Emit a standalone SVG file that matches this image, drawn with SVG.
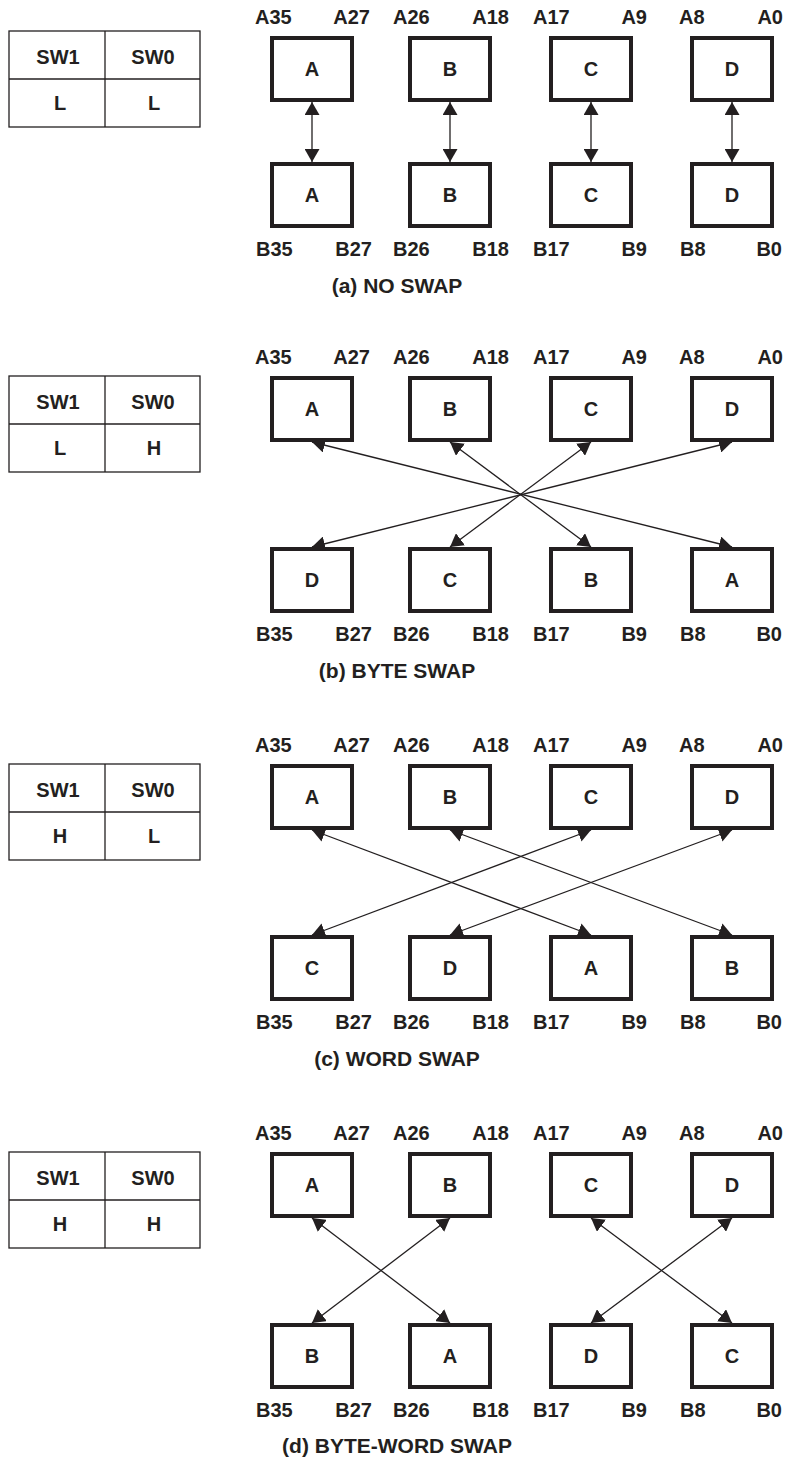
<svg xmlns="http://www.w3.org/2000/svg" width="786" height="1460" viewBox="0 0 786 1460">
<style>
.bx{fill:#fff;stroke:#231f20;stroke-width:4}
.tb{fill:none;stroke:#231f20;stroke-width:1.3}
.t{font-family:"Liberation Sans",Arial,sans-serif;font-weight:bold;font-size:20px;fill:#231f20}
.m{text-anchor:middle}
.e{text-anchor:end}
.cap{font-size:21px}
.cn{stroke:#231f20;stroke-width:1.3;fill:none;marker-start:url(#ah);marker-end:url(#ah)}
</style>
<defs>
<marker id="ah" viewBox="0 0 13 15" refX="13" refY="7.5" markerWidth="13" markerHeight="15" markerUnits="userSpaceOnUse" orient="auto-start-reverse"><path d="M0,0 L13,7.5 L0,15 z" fill="#231f20"/></marker>
</defs>

<!-- ===== Panel (a) ===== -->
<g id="table-a">
<rect class="tb" x="9" y="31" width="191" height="96"/>
<line class="tb" x1="9" y1="79" x2="200" y2="79"/>
<line class="tb" x1="105" y1="31" x2="105" y2="127"/>
<text class="t m" x="58" y="64">SW1</text><text class="t m" x="153" y="64">SW0</text>
<text class="t m" x="60" y="110">L</text><text class="t m" x="154" y="110">L</text>
</g>
<g id="labels-a">
<text class="t" x="255" y="24">A35</text><text class="t e" x="370" y="24">A27</text>
<text class="t" x="393" y="24">A26</text><text class="t e" x="509" y="24">A18</text>
<text class="t" x="533" y="24">A17</text><text class="t e" x="647" y="24">A9</text>
<text class="t" x="679" y="24">A8</text><text class="t e" x="783" y="24">A0</text>
<text class="t" x="256" y="256">B35</text><text class="t e" x="372" y="256">B27</text>
<text class="t" x="393" y="256">B26</text><text class="t e" x="509" y="256">B18</text>
<text class="t" x="533" y="256">B17</text><text class="t e" x="647" y="256">B9</text>
<text class="t" x="680" y="256">B8</text><text class="t e" x="782" y="256">B0</text>
<text class="t cap m" x="397" y="293">(a) NO SWAP</text>
</g>
<g id="a-top-A"><rect class="bx" x="272" y="38" width="80" height="62"/><text class="t m" x="312" y="76">A</text></g>
<g id="a-top-B"><rect class="bx" x="410" y="38" width="80" height="62"/><text class="t m" x="450" y="76">B</text></g>
<g id="a-top-C"><rect class="bx" x="551" y="38" width="80" height="62"/><text class="t m" x="591" y="76">C</text></g>
<g id="a-top-D"><rect class="bx" x="692" y="38" width="80" height="62"/><text class="t m" x="732" y="76">D</text></g>
<g id="a-bot-A"><rect class="bx" x="272" y="164" width="80" height="62"/><text class="t m" x="312" y="202">A</text></g>
<g id="a-bot-B"><rect class="bx" x="410" y="164" width="80" height="62"/><text class="t m" x="450" y="202">B</text></g>
<g id="a-bot-C"><rect class="bx" x="551" y="164" width="80" height="62"/><text class="t m" x="591" y="202">C</text></g>
<g id="a-bot-D"><rect class="bx" x="692" y="164" width="80" height="62"/><text class="t m" x="732" y="202">D</text></g>

<!-- ===== Panel (b) ===== -->
<g id="table-b">
<rect class="tb" x="9" y="376" width="191" height="96"/>
<line class="tb" x1="9" y1="424" x2="200" y2="424"/>
<line class="tb" x1="105" y1="376" x2="105" y2="472"/>
<text class="t m" x="58" y="409">SW1</text><text class="t m" x="153" y="409">SW0</text>
<text class="t m" x="60" y="455">L</text><text class="t m" x="154" y="455">H</text>
</g>
<g id="labels-b">
<text class="t" x="255" y="364">A35</text><text class="t e" x="370" y="364">A27</text>
<text class="t" x="393" y="364">A26</text><text class="t e" x="509" y="364">A18</text>
<text class="t" x="533" y="364">A17</text><text class="t e" x="647" y="364">A9</text>
<text class="t" x="679" y="364">A8</text><text class="t e" x="783" y="364">A0</text>
<text class="t" x="256" y="641">B35</text><text class="t e" x="372" y="641">B27</text>
<text class="t" x="393" y="641">B26</text><text class="t e" x="509" y="641">B18</text>
<text class="t" x="533" y="641">B17</text><text class="t e" x="647" y="641">B9</text>
<text class="t" x="680" y="641">B8</text><text class="t e" x="782" y="641">B0</text>
<text class="t cap m" x="397" y="678">(b) BYTE SWAP</text>
</g>
<g id="b-top-A"><rect class="bx" x="272" y="378" width="80" height="62"/><text class="t m" x="312" y="416">A</text></g>
<g id="b-top-B"><rect class="bx" x="410" y="378" width="80" height="62"/><text class="t m" x="450" y="416">B</text></g>
<g id="b-top-C"><rect class="bx" x="551" y="378" width="80" height="62"/><text class="t m" x="591" y="416">C</text></g>
<g id="b-top-D"><rect class="bx" x="692" y="378" width="80" height="62"/><text class="t m" x="732" y="416">D</text></g>
<g id="b-bot-D"><rect class="bx" x="272" y="549" width="80" height="62"/><text class="t m" x="312" y="587">D</text></g>
<g id="b-bot-C"><rect class="bx" x="410" y="549" width="80" height="62"/><text class="t m" x="450" y="587">C</text></g>
<g id="b-bot-B"><rect class="bx" x="551" y="549" width="80" height="62"/><text class="t m" x="591" y="587">B</text></g>
<g id="b-bot-A"><rect class="bx" x="692" y="549" width="80" height="62"/><text class="t m" x="732" y="587">A</text></g>

<!-- ===== Panel (c) ===== -->
<g id="table-c">
<rect class="tb" x="9" y="764" width="191" height="96"/>
<line class="tb" x1="9" y1="812" x2="200" y2="812"/>
<line class="tb" x1="105" y1="764" x2="105" y2="860"/>
<text class="t m" x="58" y="797">SW1</text><text class="t m" x="153" y="797">SW0</text>
<text class="t m" x="60" y="843">H</text><text class="t m" x="154" y="843">L</text>
</g>
<g id="labels-c">
<text class="t" x="255" y="752">A35</text><text class="t e" x="370" y="752">A27</text>
<text class="t" x="393" y="752">A26</text><text class="t e" x="509" y="752">A18</text>
<text class="t" x="533" y="752">A17</text><text class="t e" x="647" y="752">A9</text>
<text class="t" x="679" y="752">A8</text><text class="t e" x="783" y="752">A0</text>
<text class="t" x="256" y="1029">B35</text><text class="t e" x="372" y="1029">B27</text>
<text class="t" x="393" y="1029">B26</text><text class="t e" x="509" y="1029">B18</text>
<text class="t" x="533" y="1029">B17</text><text class="t e" x="647" y="1029">B9</text>
<text class="t" x="680" y="1029">B8</text><text class="t e" x="782" y="1029">B0</text>
<text class="t cap m" x="397" y="1066">(c) WORD SWAP</text>
</g>
<g id="c-top-A"><rect class="bx" x="272" y="766" width="80" height="62"/><text class="t m" x="312" y="804">A</text></g>
<g id="c-top-B"><rect class="bx" x="410" y="766" width="80" height="62"/><text class="t m" x="450" y="804">B</text></g>
<g id="c-top-C"><rect class="bx" x="551" y="766" width="80" height="62"/><text class="t m" x="591" y="804">C</text></g>
<g id="c-top-D"><rect class="bx" x="692" y="766" width="80" height="62"/><text class="t m" x="732" y="804">D</text></g>
<g id="c-bot-C"><rect class="bx" x="272" y="937" width="80" height="62"/><text class="t m" x="312" y="975">C</text></g>
<g id="c-bot-D"><rect class="bx" x="410" y="937" width="80" height="62"/><text class="t m" x="450" y="975">D</text></g>
<g id="c-bot-A"><rect class="bx" x="551" y="937" width="80" height="62"/><text class="t m" x="591" y="975">A</text></g>
<g id="c-bot-B"><rect class="bx" x="692" y="937" width="80" height="62"/><text class="t m" x="732" y="975">B</text></g>

<!-- ===== Panel (d) ===== -->
<g id="table-d">
<rect class="tb" x="9" y="1152" width="191" height="96"/>
<line class="tb" x1="9" y1="1200" x2="200" y2="1200"/>
<line class="tb" x1="105" y1="1152" x2="105" y2="1248"/>
<text class="t m" x="58" y="1185">SW1</text><text class="t m" x="153" y="1185">SW0</text>
<text class="t m" x="60" y="1231">H</text><text class="t m" x="154" y="1231">H</text>
</g>
<g id="labels-d">
<text class="t" x="255" y="1140">A35</text><text class="t e" x="370" y="1140">A27</text>
<text class="t" x="393" y="1140">A26</text><text class="t e" x="509" y="1140">A18</text>
<text class="t" x="533" y="1140">A17</text><text class="t e" x="647" y="1140">A9</text>
<text class="t" x="679" y="1140">A8</text><text class="t e" x="783" y="1140">A0</text>
<text class="t" x="256" y="1417">B35</text><text class="t e" x="372" y="1417">B27</text>
<text class="t" x="393" y="1417">B26</text><text class="t e" x="509" y="1417">B18</text>
<text class="t" x="533" y="1417">B17</text><text class="t e" x="647" y="1417">B9</text>
<text class="t" x="680" y="1417">B8</text><text class="t e" x="782" y="1417">B0</text>
<text class="t cap m" x="397" y="1453">(d) BYTE-WORD SWAP</text>
</g>
<g id="d-top-A"><rect class="bx" x="272" y="1154" width="80" height="62"/><text class="t m" x="312" y="1192">A</text></g>
<g id="d-top-B"><rect class="bx" x="410" y="1154" width="80" height="62"/><text class="t m" x="450" y="1192">B</text></g>
<g id="d-top-C"><rect class="bx" x="551" y="1154" width="80" height="62"/><text class="t m" x="591" y="1192">C</text></g>
<g id="d-top-D"><rect class="bx" x="692" y="1154" width="80" height="62"/><text class="t m" x="732" y="1192">D</text></g>
<g id="d-bot-B"><rect class="bx" x="272" y="1325" width="80" height="62"/><text class="t m" x="312" y="1363">B</text></g>
<g id="d-bot-A"><rect class="bx" x="410" y="1325" width="80" height="62"/><text class="t m" x="450" y="1363">A</text></g>
<g id="d-bot-D"><rect class="bx" x="551" y="1325" width="80" height="62"/><text class="t m" x="591" y="1363">D</text></g>
<g id="d-bot-C"><rect class="bx" x="692" y="1325" width="80" height="62"/><text class="t m" x="732" y="1363">C</text></g>

<!-- ===== Connectors ===== -->
<g id="connectors">
<line class="cn" x1="312" y1="102" x2="312" y2="162"/>
<line class="cn" x1="450" y1="102" x2="450" y2="162"/>
<line class="cn" x1="591" y1="102" x2="591" y2="162"/>
<line class="cn" x1="732" y1="102" x2="732" y2="162"/>

<line class="cn" x1="312" y1="442" x2="732" y2="547"/>
<line class="cn" x1="450" y1="442" x2="591" y2="547"/>
<line class="cn" x1="591" y1="442" x2="450" y2="547"/>
<line class="cn" x1="732" y1="442" x2="312" y2="547"/>

<line class="cn" x1="312" y1="830" x2="591" y2="935"/>
<line class="cn" x1="450" y1="830" x2="732" y2="935"/>
<line class="cn" x1="591" y1="830" x2="312" y2="935"/>
<line class="cn" x1="732" y1="830" x2="450" y2="935"/>

<line class="cn" x1="312" y1="1218" x2="450" y2="1323"/>
<line class="cn" x1="450" y1="1218" x2="312" y2="1323"/>
<line class="cn" x1="591" y1="1218" x2="732" y2="1323"/>
<line class="cn" x1="732" y1="1218" x2="591" y2="1323"/>
</g>
</svg>
